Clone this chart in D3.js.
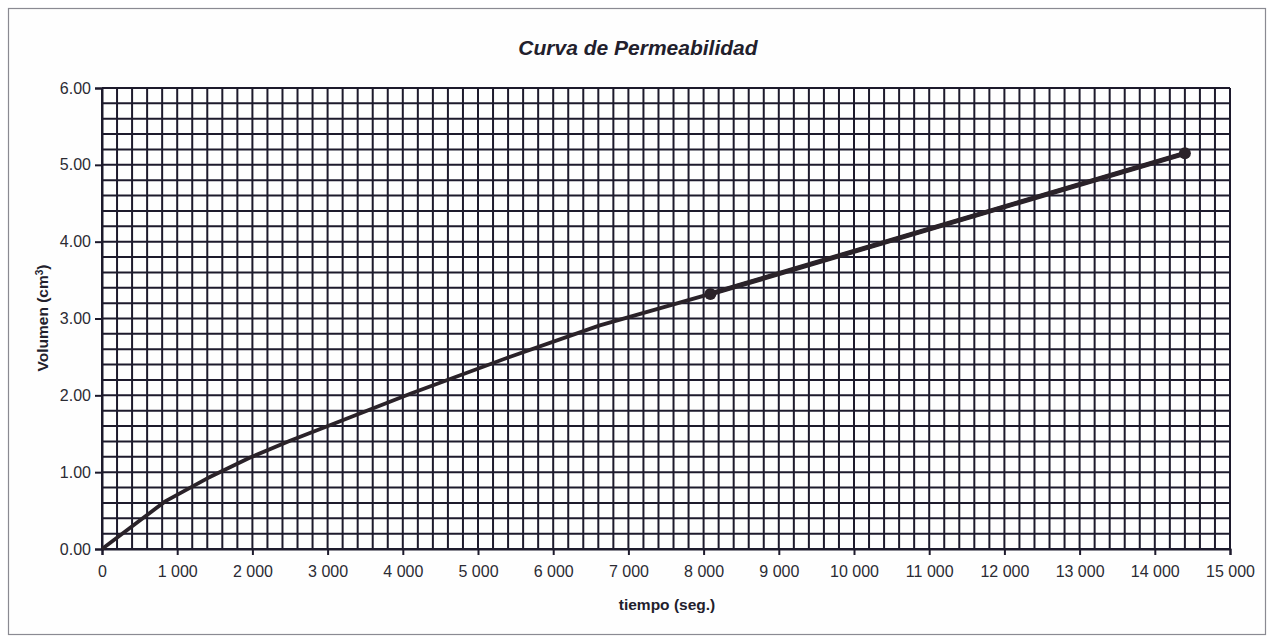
<!DOCTYPE html>
<html>
<head>
<meta charset="utf-8">
<script src="https://cdn.jsdelivr.net/npm/d3@7"></script>
<style>
  html, body { margin: 0; padding: 0; background: #ffffff; }
  svg { display: block; }
</style>
</head>
<body>
<svg id="chart" width="1273" height="638"></svg>
<script>
// Permeability curve: cumulative volume against time
const tiempo  = [0, 840, 1400, 1970, 2500, 3030, 4100, 5420, 6620, 8090, 14400];
const volumen = [0, 0.62, 0.92, 1.19, 1.41, 1.61, 2.02, 2.50, 2.91, 3.32, 5.15];
// Measured points highlighted with markers
const puntosT = [8090, 14400];
const puntosV = [3.32, 5.15];

const xTicks = [0, 1000, 2000, 3000, 4000, 5000, 6000, 7000, 8000, 9000, 10000, 11000, 12000, 13000, 14000, 15000];
const yTicks = [0, 1, 2, 3, 4, 5, 6];

const titulo = "Curva de Permeabilidad";
const tituloX = "tiempo (seg.)";

const m = { left: 102, right: 1230, top: 88, bottom: 549 };
const svg = d3.select("#chart");
const FONT = "'Liberation Sans', Arial, sans-serif";
const INK = "#1d1a2c";

// outer frame
svg.append("rect").attr("x", 8.5).attr("y", 8.5).attr("width", 1257).attr("height", 626)
  .attr("fill", "#fefefe").attr("stroke", "#8a8a92").attr("stroke-width", 1.2);

const x = d3.scaleLinear().domain([0, 15000]).range([m.left, m.right]);
const y = d3.scaleLinear().domain([0, 6]).range([m.bottom, m.top]);

// fine grid: every 200 s and every 0.2 cm3
const gx = d3.range(0, 15000 + 1, 200);
const gy = d3.range(0, 31).map(i => i * 0.2);
const grid = svg.append("g").attr("stroke", INK).attr("stroke-width", 2);
grid.selectAll("line.v").data(gx).join("line").attr("class", "v")
  .attr("x1", d => x(d)).attr("x2", d => x(d)).attr("y1", m.top).attr("y2", m.bottom);
grid.selectAll("line.h").data(gy).join("line").attr("class", "h")
  .attr("x1", m.left).attr("x2", m.right).attr("y1", d => y(d)).attr("y2", d => y(d));

// axes
const fmtX = d => d === 0 ? "0" : d3.format(",")(d).replace(/,/g, " ");
const xAxis = d3.axisBottom(x).tickValues(xTicks).tickFormat(fmtX).tickSize(6).tickPadding(11);
const yAxis = d3.axisLeft(y).tickValues(yTicks).tickFormat(d3.format(".2f")).tickSize(7).tickPadding(4);

const gX = svg.append("g").attr("transform", `translate(0,${m.bottom})`).call(xAxis);
const gY = svg.append("g").attr("transform", `translate(${m.left},0)`).call(yAxis);
[gX, gY].forEach(g => {
  g.select(".domain").attr("stroke", INK).attr("stroke-width", 2);
  g.selectAll(".tick line").attr("stroke", INK).attr("stroke-width", 2);
  g.selectAll("text").attr("fill", "#2b2b33")
    .style("font-family", FONT).style("font-size", "16px");
});

// data line
const line = d3.line().x((d, i) => x(tiempo[i])).y((d, i) => y(volumen[i]));
svg.append("path").datum(tiempo).attr("d", line)
  .attr("fill", "none").attr("stroke", "#2a2229").attr("stroke-width", 3.8).attr("stroke-linejoin", "round");

// marked segment
const line2 = d3.line().x((d, i) => x(puntosT[i])).y((d, i) => y(puntosV[i]));
svg.append("path").datum(puntosT).attr("d", line2)
  .attr("fill", "none").attr("stroke", "#2a2229").attr("stroke-width", 5);
svg.selectAll("circle.pt").data(puntosT).join("circle").attr("class", "pt")
  .attr("cx", d => x(d)).attr("cy", (d, i) => y(puntosV[i])).attr("r", 6)
  .attr("fill", "#2a2229");

// title and axis labels
svg.append("text").attr("x", 638).attr("y", 55).attr("text-anchor", "middle")
  .style("font-family", FONT).style("font-size", "21px")
  .style("font-weight", "bold").style("font-style", "italic").attr("fill", "#22202c")
  .text(titulo);

svg.append("text").attr("x", 667).attr("y", 610).attr("text-anchor", "middle")
  .style("font-family", FONT).style("font-size", "15.5px")
  .style("font-weight", "bold").attr("fill", "#22202c")
  .text(tituloX);

const yl = svg.append("text").attr("transform", "translate(48,318) rotate(-90)").attr("text-anchor", "middle")
  .style("font-family", FONT).style("font-size", "15.5px")
  .style("font-weight", "bold").attr("fill", "#22202c");
yl.append("tspan").text("Volumen (cm");
yl.append("tspan").attr("baseline-shift", "super").style("font-size", "10px").text("3");
yl.append("tspan").text(")");
</script>
</body>
</html>
